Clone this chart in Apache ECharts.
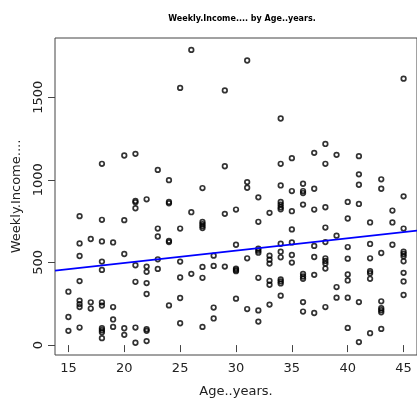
<!DOCTYPE html>
<html>
<head>
<meta charset="utf-8">
<script src="https://cdn.jsdelivr.net/npm/echarts@6/dist/echarts.min.js"></script>
<style>html,body{margin:0;padding:0;background:#fff;}#c{width:417px;height:403px;}</style>
</head>
<body>
<div id="c"></div>
<script>
// Data (age in years, weekly income)
var ages = [
  15,15,15,
  16,16,16,16,16,16,16,16,
  17,17,17,
  18,18,18,18,18,18,18,18,18,18,18,
  19,19,19,19,
  20,20,20,20,20,
  21,21,21,21,21,21,21,21,
  22,22,22,22,22,22,22,22,
  23,23,23,23,23,
  24,24,24,24,24,24,
  25,25,25,25,25,25,
  26,26,26,
  27,27,27,27,27,27,27,27,
  28,28,28,28,
  29,29,29,29,
  30,30,30,30,30,30,
  31,31,31,31,31,
  32,32,32,32,32,32,32,32,
  33,33,33,33,33,33,33,
  34,34,34,34,34,34,34,34,34,34,34,34,34,34,
  35,35,35,35,35,35,35,
  36,36,36,36,36,36,36,36,36,
  37,37,37,37,37,37,37,
  38,38,38,38,38,38,38,38,38,38,
  39,39,39,39,
  40,40,40,40,40,40,40,40,
  41,41,41,41,41,41,
  42,42,42,42,42,42,42,
  43,43,43,43,43,43,43,43,
  44,44,44,
  45,45,45,45,45,45,45,45,45,45
];
var incomes = [
  323,170,86,
  780,615,539,387,269,248,230,106,
  642,259,221,
  1097,758,627,505,455,259,239,102,90,78,42,
  621,230,155,110,
  1147,756,551,102,62,
  1157,872,864,828,483,383,106,14,
  882,475,443,375,309,96,86,24,
  1060,705,657,519,461,
  998,866,858,631,623,240,
  1556,705,505,409,285,132,
  1786,804,431,
  950,745,732,720,708,473,407,110,
  541,479,227,161,
  1541,1082,794,475,
  820,607,463,455,447,281,
  1722,986,952,525,218,
  894,746,583,571,559,407,210,142,
  800,541,517,493,389,365,245,
  1371,1097,966,866,850,834,822,613,565,531,397,385,373,299,
  1131,932,810,700,621,545,499,
  976,932,920,850,431,415,401,260,203,
  1163,946,820,600,533,425,194,
  1217,1097,834,711,623,525,509,493,463,230,
  1151,662,351,287,
  866,766,593,523,427,391,287,104,
  1143,1033,970,854,260,18,
  742,612,525,447,435,401,72,
  1003,946,557,265,223,211,198,98,
  814,742,607,
  1612,900,705,565,551,537,507,437,385,303
];
// Fitted line endpoints
var fitAges = [13.8, 46.2];
var fitIncomes = [450, 692];
var xTicks = [15, 20, 25, 30, 35, 40, 45];
var yTicks = [0, 500, 1000, 1500];

var points = ages.map(function (a, i) { return [a, incomes[i]]; });
var fit = fitAges.map(function (a, i) { return [a, fitIncomes[i]]; });

var chart = echarts.init(document.getElementById('c'), null, {renderer: 'canvas'});
var font = 'DejaVu Sans';
chart.setOption({
  animation: false,
  backgroundColor: '#fff',
  title: {
    text: 'Weekly.Income.... by Age..years.',
    left: 237, top: 10, textAlign: 'center',
    textStyle: {fontFamily: font, fontSize: 8, fontWeight: 'bold', color: '#000'}
  },
  grid: {
    left: 55, top: 38, width: 364.6, height: 319,
    show: true, borderColor: '#444', borderWidth: 1, backgroundColor: 'transparent'
  },
  xAxis: {
    type: 'value', min: 13.8, max: 46.2,
    name: 'Age..years.', nameLocation: 'middle', nameGap: 30,
    nameTextStyle: {fontFamily: font, fontSize: 13, color: '#222'},
    axisLine: {show: false},
    axisTick: {show: true, length: 7, customValues: xTicks, lineStyle: {color: '#444'}},
    axisLabel: {customValues: xTicks, margin: 7, fontFamily: font, fontSize: 13, color: '#222',
      formatter: function (v) { return String(v); }},
    splitLine: {show: false}
  },
  yAxis: {
    type: 'value', min: -60, max: 1858,
    name: 'Weekly.Income....', nameLocation: 'middle', nameGap: 32, nameRotate: 90,
    nameTextStyle: {fontFamily: font, fontSize: 13, color: '#222'},
    axisLine: {show: false},
    axisTick: {show: true, length: 7, customValues: yTicks, lineStyle: {color: '#444'}},
    axisLabel: {customValues: yTicks, rotate: 90, margin: 10, fontFamily: font, fontSize: 13, color: '#222',
      formatter: function (v) { return String(v); }},
    splitLine: {show: false}
  },
  series: [
    {
      type: 'scatter', data: points, symbol: 'circle', symbolSize: 4.6,
      itemStyle: {color: 'rgba(0,0,0,0)', borderColor: '#000', borderWidth: 1.7},
      z: 2
    },
    {
      type: 'line', data: fit, showSymbol: false, symbol: 'none',
      lineStyle: {color: '#0000ff', width: 1.8}, z: 3
    }
  ]
});
</script>
</body>
</html>
